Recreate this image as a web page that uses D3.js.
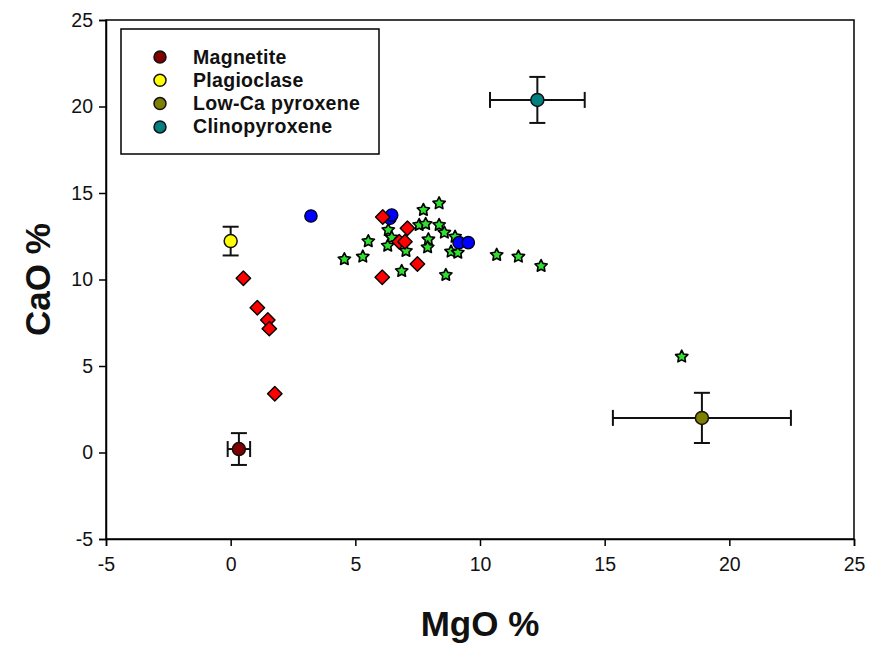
<!DOCTYPE html>
<html>
<head>
<meta charset="utf-8">
<script src="https://cdn.jsdelivr.net/npm/d3@7/dist/d3.min.js"></script>
<style>
  body { margin: 0; background: #fff; }
  svg { display: block; font-family: Arial, "Liberation Sans", sans-serif; }
</style>
</head>
<body>
<svg id="chart" width="869" height="648"></svg>
<script>
// ---------- data ----------
const xTicks = [-5, 0, 5, 10, 15, 20, 25];
const yTicks = [-5, 0, 5, 10, 15, 20, 25];

// green stars [MgO, CaO]
const starPts = [
  [4.56, 11.17], [5.30, 11.32], [5.52, 12.21], [6.32, 12.86], [6.46, 12.42],
  [6.30, 11.95], [7.03, 11.65], [6.86, 10.49], [7.73, 14.02], [8.36, 14.40],
  [7.56, 13.15], [7.82, 13.21], [8.36, 13.15], [8.57, 12.71], [7.93, 12.32],
  [7.90, 11.86], [9.00, 12.47], [8.84, 11.61], [9.11, 11.55], [8.63, 10.26],
  [10.67, 11.42], [11.54, 11.32], [12.45, 10.78], [18.09, 5.54]
];
// blue circles
const bluePts = [
  [3.22, 13.67], [6.39, 13.54], [6.46, 13.73], [9.16, 12.13], [9.53, 12.13]
];
// red diamonds
const redPts = [
  [0.51, 10.07], [1.07, 8.37], [1.49, 7.66], [1.55, 7.16], [1.77, 3.40],
  [6.10, 13.61], [7.09, 12.96], [6.76, 12.18], [6.99, 12.18], [7.49, 10.90],
  [6.08, 10.13]
];
// mineral reference points with error bars
const minerals = ["Magnetite", "Plagioclase", "Low-Ca pyroxene", "Clinopyroxene"];
const mineralColors = ["#800000", "#ffff00", "#808000", "#008080"];
const mineralMgO = [0.33, 0.0, 18.9, 12.3];
const mineralCaO = [0.2, 12.22, 2.0, 20.38];
const mineralMgOErr = [0.45, 0, 3.57, 1.9];
const mineralCaOErr = [0.92, 0.83, 1.45, 1.33];

// ---------- layout ----------
const W = 869, H = 648;
const margin = { left: 106, right: 15, top: 20, bottom: 109 };
const iw = W - margin.left - margin.right;
const ih = H - margin.top - margin.bottom;

const svg = d3.select("#chart");
const g = svg.append("g").attr("transform", `translate(${margin.left},${margin.top})`);

const x = d3.scaleLinear().domain([-5, 25]).range([0, iw]);
const y = d3.scaleLinear().domain([-5, 25]).range([ih, 0]);

// frame
g.append("rect").attr("x", 0).attr("y", 0).attr("width", iw).attr("height", ih)
  .attr("fill", "none").attr("stroke", "#000").attr("stroke-width", 1.5);

// axes
const fmt = d => String(d);
const xAxis = g.append("g").attr("transform", `translate(0,${ih})`)
  .call(d3.axisBottom(x).tickValues(xTicks).tickSize(7).tickPadding(11).tickFormat(fmt));
const yAxis = g.append("g")
  .call(d3.axisLeft(y).tickValues(yTicks).tickSize(7).tickPadding(6).tickFormat(fmt));
[xAxis, yAxis].forEach(a => {
  a.attr("font-size", 19.5).attr("font-family", "Arial, 'Liberation Sans', sans-serif");
  a.select(".domain").attr("stroke", "#000").attr("stroke-width", 1.5);
  a.selectAll(".tick line").attr("stroke", "#000").attr("stroke-width", 1.5);
  a.selectAll(".tick text").style("font-size", "19.5px").attr("fill", "#111");
});

// axis titles
svg.append("text").attr("x", margin.left + iw / 2).attr("y", 636)
  .attr("text-anchor", "middle").attr("font-size", 35).attr("font-weight", "bold")
  .attr("fill", "#111").text("MgO %");
svg.append("text").attr("transform", `translate(50,${margin.top + ih / 2}) rotate(-90)`)
  .attr("text-anchor", "middle").attr("font-size", 35).attr("font-weight", "bold")
  .attr("fill", "#111").text("CaO %");

// symbols
const starType = {
  draw(ctx, size) {
    const R = Math.sqrt(size), r = R * 0.5;
    for (let i = 0; i < 10; i++) {
      const rad = i % 2 === 0 ? R : r;
      const a = -Math.PI / 2 + i * Math.PI / 5;
      const px = rad * Math.cos(a), py = rad * Math.sin(a);
      if (i === 0) ctx.moveTo(px, py); else ctx.lineTo(px, py);
    }
    ctx.closePath();
  }
};
const diamondType = {
  draw(ctx, size) {
    const h = Math.sqrt(size);
    ctx.moveTo(0, -h); ctx.lineTo(h, 0); ctx.lineTo(0, h); ctx.lineTo(-h, 0); ctx.closePath();
  }
};

// stars
g.append("g").selectAll("path").data(starPts).join("path")
  .attr("transform", d => `translate(${x(d[0])},${y(d[1])})`)
  .attr("d", d3.symbol().type(starType).size(42))
  .attr("fill", "#2ee02e").attr("stroke", "#000").attr("stroke-width", 1.6)
  .attr("stroke-linejoin", "round");

// blue circles
g.append("g").selectAll("circle").data(bluePts).join("circle")
  .attr("cx", d => x(d[0])).attr("cy", d => y(d[1])).attr("r", 6.2)
  .attr("fill", "#0000ff").attr("stroke", "#000").attr("stroke-width", 1.2);

// red diamonds
g.append("g").selectAll("path").data(redPts).join("path")
  .attr("transform", d => `translate(${x(d[0])},${y(d[1])})`)
  .attr("d", d3.symbol().type(diamondType).size(52))
  .attr("fill", "#ff0000").attr("stroke", "#000").attr("stroke-width", 1.4)
  .attr("stroke-linejoin", "round");

// mineral points with error bars
const cap = 8;
const mg = g.append("g");
minerals.forEach((m, i) => {
  const cx = x(mineralMgO[i]), cy = y(mineralCaO[i]);
  const grp = mg.append("g").attr("stroke", "#111").attr("stroke-width", 2);
  if (mineralMgOErr[i] > 0) {
    const x0 = x(mineralMgO[i] - mineralMgOErr[i]), x1 = x(mineralMgO[i] + mineralMgOErr[i]);
    grp.append("line").attr("x1", x0).attr("x2", x1).attr("y1", cy).attr("y2", cy);
    grp.append("line").attr("x1", x0).attr("x2", x0).attr("y1", cy - cap).attr("y2", cy + cap);
    grp.append("line").attr("x1", x1).attr("x2", x1).attr("y1", cy - cap).attr("y2", cy + cap);
  }
  if (mineralCaOErr[i] > 0) {
    const y0 = y(mineralCaO[i] - mineralCaOErr[i]), y1 = y(mineralCaO[i] + mineralCaOErr[i]);
    grp.append("line").attr("x1", cx).attr("x2", cx).attr("y1", y0).attr("y2", y1);
    grp.append("line").attr("x1", cx - cap).attr("x2", cx + cap).attr("y1", y0).attr("y2", y0);
    grp.append("line").attr("x1", cx - cap).attr("x2", cx + cap).attr("y1", y1).attr("y2", y1);
  }
  mg.append("circle").attr("cx", cx).attr("cy", cy).attr("r", 6.5)
    .attr("fill", mineralColors[i]).attr("stroke", "#111").attr("stroke-width", 1.5);
});

// legend
const lg = svg.append("g");
lg.append("rect").attr("x", 121).attr("y", 29).attr("width", 258).attr("height", 125)
  .attr("fill", "#fff").attr("stroke", "#000").attr("stroke-width", 1.5);
minerals.forEach((m, i) => {
  const ly = 57 + i * 23.3;
  lg.append("circle").attr("cx", 160).attr("cy", ly).attr("r", 6)
    .attr("fill", mineralColors[i]).attr("stroke", "#111").attr("stroke-width", 1.5);
  lg.append("text").attr("x", 193).attr("y", ly + 6.5).attr("font-size", 19.5)
    .attr("letter-spacing", 0.3).attr("font-weight", "bold").attr("fill", "#111").text(m);
});
</script>
</body>
</html>
